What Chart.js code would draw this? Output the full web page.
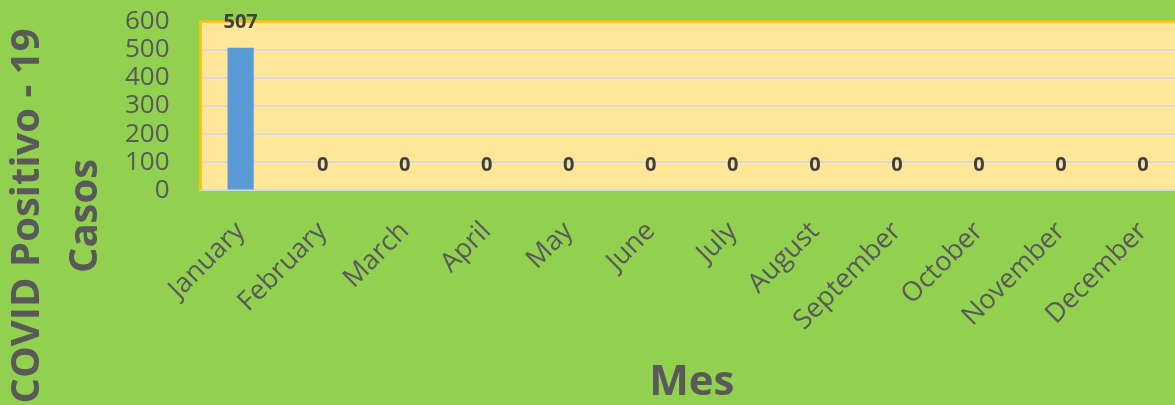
<!DOCTYPE html>
<html>
<head>
<meta charset="utf-8">
<script src="https://cdn.jsdelivr.net/npm/chart.js@4"></script>
<style>
  html, body { margin: 0; padding: 0; background: #92D050; overflow: hidden; }
  #wrap { position: absolute; left: 0; top: -24px; }
</style>
</head>
<body>
<div id="wrap"><canvas id="chart" width="1190" height="430"></canvas></div>
<script>
const months = ['January', 'February', 'March', 'April', 'May', 'June',
  'July', 'August', 'September', 'October', 'November', 'December'];
const casos = [507, 0, 0, 0, 0, 0, 0, 0, 0, 0, 0, 0];
const yTicks = [0, 100, 200, 300, 400, 500, 600];
const yTitle = ['COVID Positivo - 19', 'Casos'];
const xTitle = 'Mes';

const grey = '#595959';

// plot area fill + orange border
const areaPlugin = {
  id: 'area',
  beforeDraw(chart) {
    const { ctx, chartArea: a } = chart;
    ctx.save();
    ctx.fillStyle = '#FFE699';
    ctx.fillRect(a.left, a.top, a.right - a.left, a.bottom - a.top);
    ctx.restore();
  },
  beforeDatasetsDraw(chart) {
    const { ctx, chartArea: a } = chart;
    ctx.save();
    ctx.strokeStyle = '#FFC000';
    ctx.lineWidth = 2.5;
    ctx.beginPath();
    ctx.moveTo(a.left + 1, a.bottom);
    ctx.lineTo(a.left + 1, a.top);
    ctx.lineTo(a.right, a.top);
    ctx.stroke();
    ctx.restore();
  }
};

// value labels above bars
const labelPlugin = {
  id: 'labels',
  afterDatasetsDraw(chart) {
    const { ctx } = chart;
    const meta = chart.getDatasetMeta(0);
    ctx.save();
    ctx.font = 'bold 20px "Open Sans"';
    ctx.fillStyle = '#404040';
    ctx.textAlign = 'center';
    ctx.textBaseline = 'middle';
    meta.data.forEach((bar, i) => {
      ctx.fillText(String(casos[i]), bar.x, bar.y - 25);
    });
    ctx.restore();
  }
};

// two-line y title, placed like the original (canvas is shifted up 24px)
const yTitlePlugin = {
  id: 'ytitle',
  afterDraw(chart) {
    const { ctx } = chart;
    ctx.save();
    ctx.font = 'bold 40px "Open Sans"';
    ctx.fillStyle = grey;
    ctx.textAlign = 'center';
    ctx.textBaseline = 'middle';
    [28, 86].forEach((x, i) => {
      ctx.save();
      ctx.translate(x, 216 + 24);
      ctx.rotate(-Math.PI / 2);
      ctx.fillText(yTitle[i], 0, 0);
      ctx.restore();
    });
    ctx.restore();
  }
};

new Chart(document.getElementById('chart'), {
  type: 'bar',
  data: {
    labels: months,
    datasets: [{
      data: casos,
      backgroundColor: '#5B9BD5',
      barPercentage: 0.32,
      categoryPercentage: 1
    }]
  },
  options: {
    responsive: false,
    animation: false,
    layout: { padding: { left: 95, top: 3, right: 6, bottom: 4 } },
    plugins: { legend: { display: false }, tooltip: { enabled: false } },
    scales: {
      y: {
        min: yTicks[0],
        max: yTicks[yTicks.length - 1],
        afterBuildTicks(scale) { scale.ticks = yTicks.map(v => ({ value: v })); },
        ticks: { color: grey, font: { family: 'Open Sans', size: 26 }, padding: 30, autoSkip: false },
        grid: { color: '#D9D9D9', lineWidth: 2, drawTicks: false },
        border: { display: false }
      },
      x: {
        ticks: { color: grey, font: { family: 'Open Sans', size: 27 }, minRotation: 45, maxRotation: 45, padding: 17, autoSkip: false },
        grid: { display: false },
        border: { color: '#D9D9D9', width: 2 },
        title: { display: true, text: xTitle, color: grey, font: { family: 'Open Sans', size: 42, weight: 'bold' }, padding: { top: 24, bottom: -6 } }
      }
    }
  },
  plugins: [areaPlugin, labelPlugin, yTitlePlugin]
});
</script>
</body>
</html>
